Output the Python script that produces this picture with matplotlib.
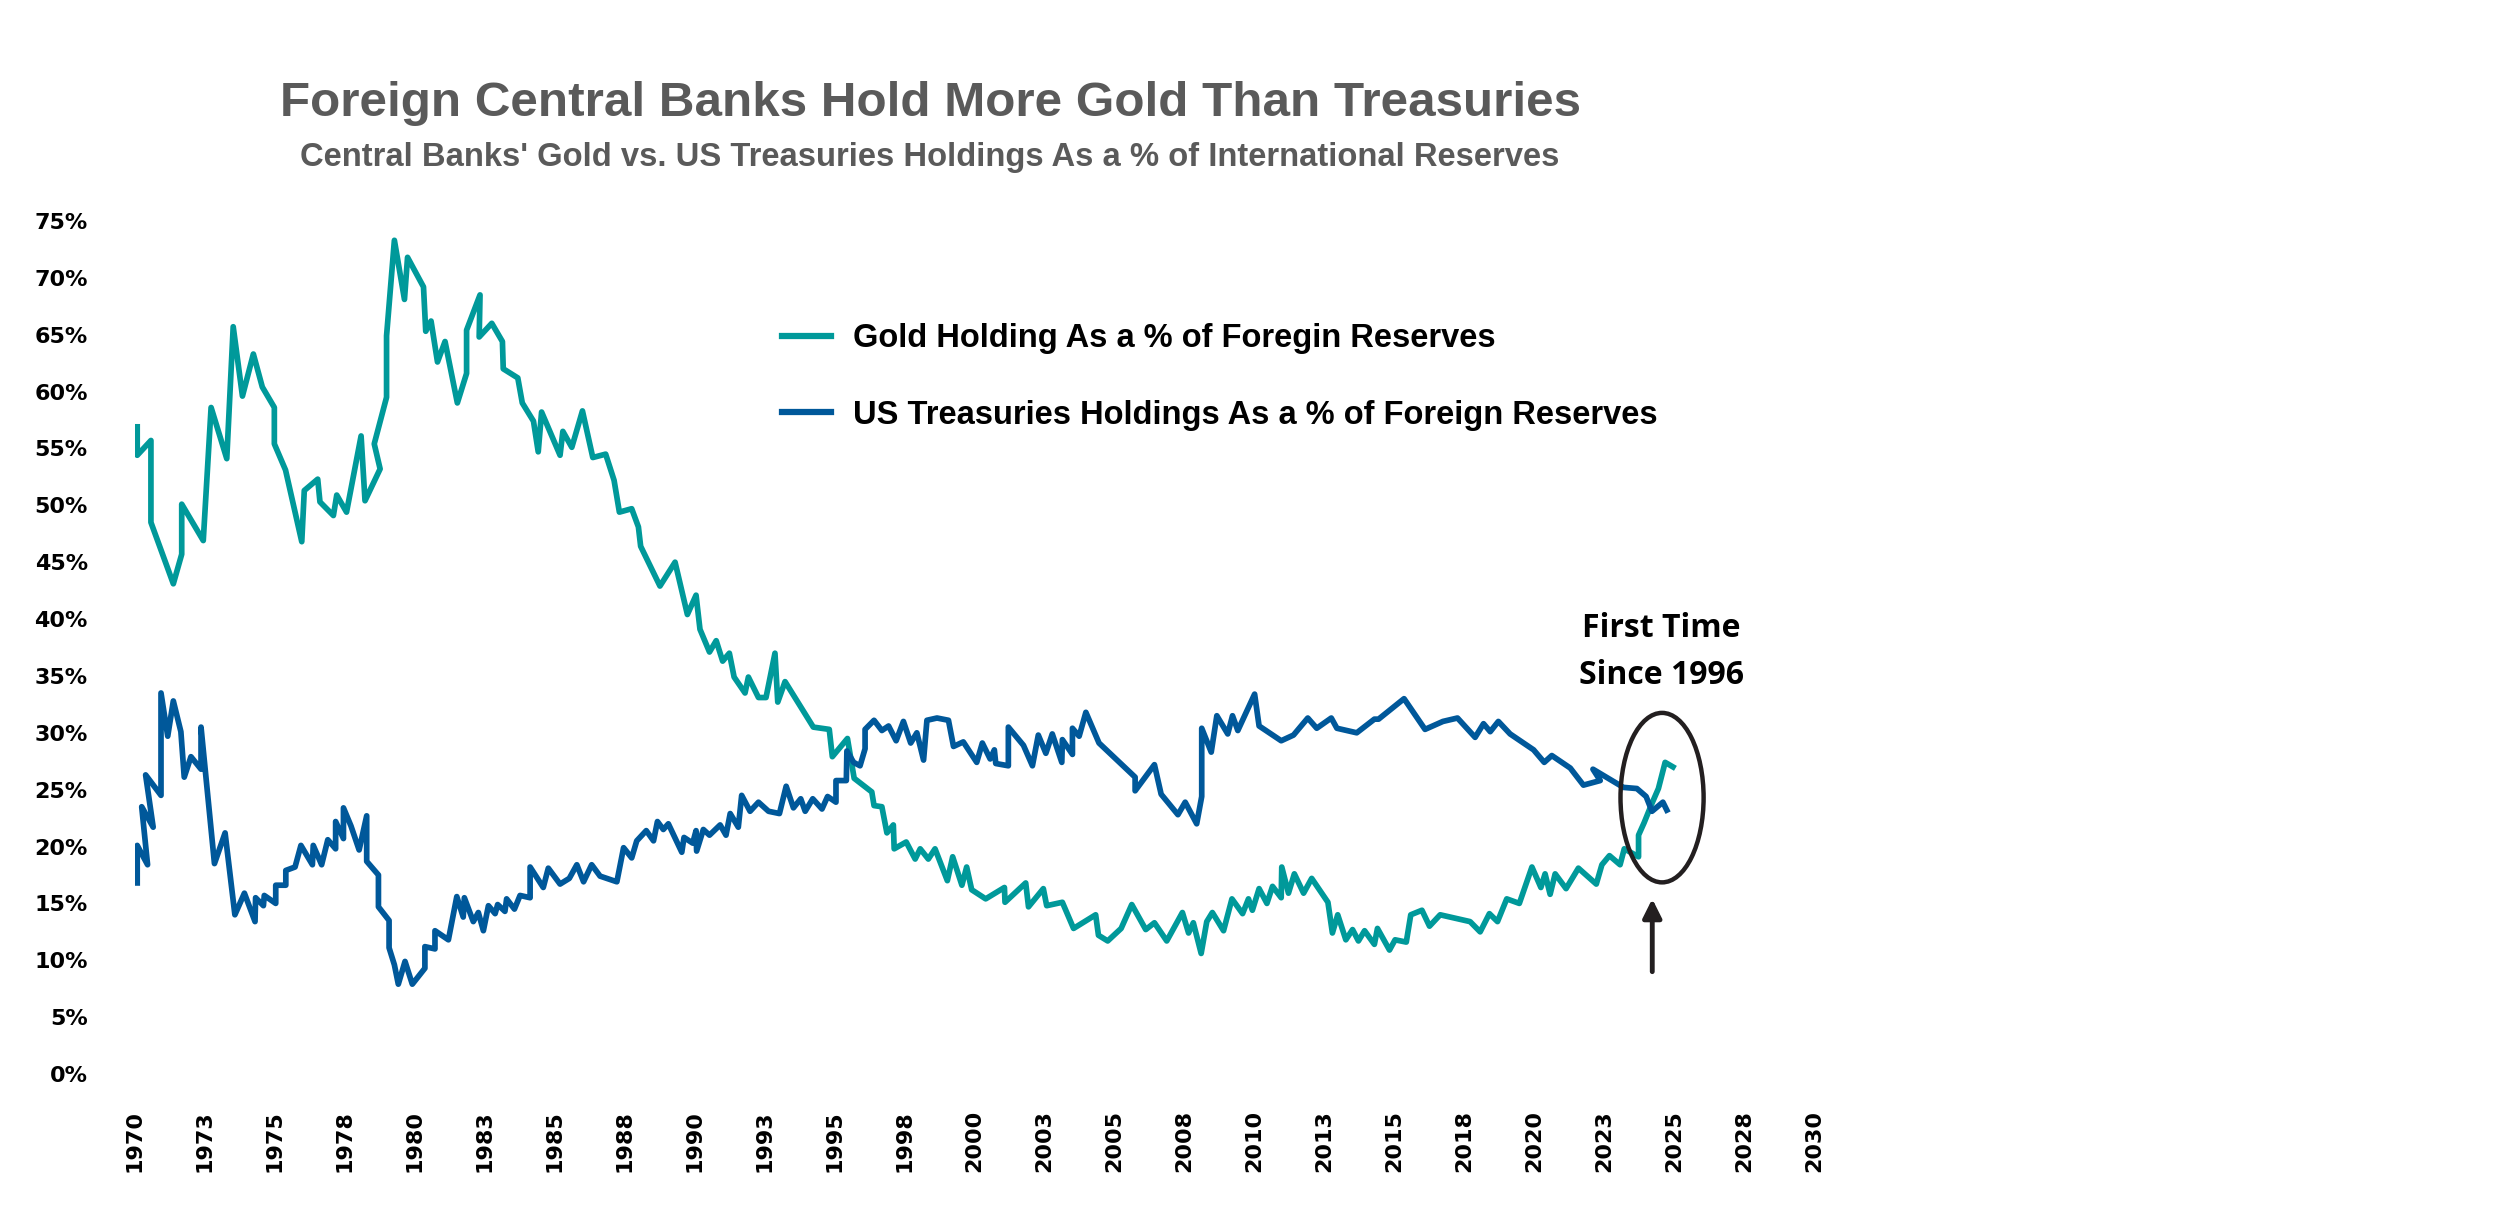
import matplotlib
matplotlib.use("Agg")
import matplotlib.pyplot as plt
from matplotlib import font_manager
from matplotlib.patches import Ellipse

# pick fonts that exist in the sandbox
_names = {f.name for f in font_manager.fontManager.ttflist}
NARROW = "Liberation Sans Narrow" if "Liberation Sans Narrow" in _names else "Liberation Sans"
NOTE = "Open Sans" if "Open Sans" in _names else "DejaVu Sans"

# ---- data (% of reserves) ----
gold_years = [
    1970.08, 1970.08, 1970.57, 1970.57, 1971.37, 1971.67, 1971.67, 1972.44, 1972.72, 1973.28,
    1973.51, 1973.84, 1974.23, 1974.55, 1974.98, 1974.98, 1975.38, 1975.96, 1976.05, 1976.53,
    1976.61, 1977.09, 1977.21, 1977.56, 1978.08, 1978.22, 1978.76, 1978.55, 1978.99, 1978.99,
    1979.27, 1979.63, 1979.74, 1980.31, 1980.39, 1980.58, 1980.81, 1981.08, 1981.52, 1981.85,
    1981.85, 1982.33, 1982.30, 1982.75, 1983.13, 1983.16, 1983.68, 1983.84, 1984.24, 1984.41,
    1984.53, 1985.19, 1985.29, 1985.61, 1985.99, 1986.36, 1986.82, 1987.12, 1987.31, 1987.75,
    1987.99, 1988.07, 1988.76, 1989.30, 1989.74, 1990.05, 1990.19, 1990.53, 1990.77, 1991.00,
    1991.24, 1991.41, 1991.80, 1991.92, 1992.28, 1992.55, 1992.87, 1992.97, 1993.23, 1994.24,
    1994.81, 1994.92, 1995.46, 1995.70, 1996.33, 1996.41, 1996.69, 1996.87, 1997.10, 1997.13,
    1997.56, 1997.88, 1998.06, 1998.35, 1998.59, 1999.03, 1999.22, 1999.55, 1999.72, 1999.90,
    2000.40, 2001.07, 2001.09, 2001.83, 2001.93, 2002.46, 2002.58, 2003.14, 2003.54, 2004.33,
    2004.43, 2004.76, 2005.24, 2005.62, 2006.12, 2006.43, 2006.87, 2007.43, 2007.65, 2007.82,
    2008.10, 2008.30, 2008.50, 2008.90, 2009.20, 2009.58, 2009.79, 2009.93, 2010.17, 2010.45,
    2010.65, 2010.96, 2010.98, 2011.22, 2011.43, 2011.76, 2012.05, 2012.63, 2012.79, 2012.98,
    2013.27, 2013.51, 2013.72, 2013.94, 2014.29, 2014.40, 2014.83, 2015.03, 2015.43, 2015.59,
    2015.99, 2016.26, 2016.64, 2017.71, 2018.07, 2018.40, 2018.69, 2019.02, 2019.47, 2019.92,
    2020.24, 2020.39, 2020.57, 2020.75, 2021.14, 2021.58, 2022.22, 2022.42, 2022.69, 2023.07,
    2023.22, 2023.73, 2023.73, 2023.93, 2024.21, 2024.44, 2024.68, 2024.96,
]
gold_pct = [
    56.9, 54.4, 55.7, 48.5, 43.1, 45.7, 50.1, 46.9, 58.6, 54.1,
    65.7, 59.6, 63.3, 60.4, 58.6, 55.4, 53.1, 46.8, 51.3, 52.3,
    50.3, 49.1, 50.9, 49.4, 56.1, 50.4, 53.2, 55.4, 59.5, 64.9,
    73.3, 68.1, 71.8, 69.2, 65.3, 66.2, 62.6, 64.4, 59.0, 61.6,
    65.4, 68.5, 64.8, 66.0, 64.4, 62.0, 61.2, 59.0, 57.4, 54.7,
    58.2, 54.4, 56.5, 55.1, 58.3, 54.2, 54.5, 52.2, 49.4, 49.7,
    48.1, 46.4, 42.9, 45.0, 40.4, 42.1, 39.1, 37.1, 38.1, 36.3,
    37.0, 34.9, 33.5, 34.9, 33.1, 33.1, 37.0, 32.7, 34.5, 30.5,
    30.3, 27.9, 29.5, 26.0, 24.8, 23.6, 23.5, 21.2, 21.9, 19.8,
    20.4, 18.9, 19.8, 18.9, 19.8, 17.0, 19.1, 16.6, 18.2, 16.2,
    15.4, 16.4, 15.1, 16.8, 14.7, 16.3, 14.8, 15.1, 12.8, 14.0,
    12.2, 11.7, 12.8, 14.9, 12.7, 13.3, 11.7, 14.2, 12.4, 13.3,
    10.6, 13.4, 14.2, 12.6, 15.4, 14.1, 15.4, 14.4, 16.3, 15.0,
    16.5, 15.5, 18.2, 15.9, 17.6, 15.9, 17.2, 15.1, 12.4, 14.0,
    11.8, 12.7, 11.7, 12.6, 11.4, 12.8, 10.9, 11.8, 11.6, 14.0,
    14.4, 13.0, 14.0, 13.4, 12.5, 14.1, 13.4, 15.4, 15.0, 18.2,
    16.4, 17.6, 15.8, 17.6, 16.3, 18.1, 16.7, 18.4, 19.2, 18.4,
    19.8, 19.1, 21.0, 22.1, 23.8, 25.1, 27.4, 27.0,
]

ust_years = [
    1970.08, 1970.08, 1970.45, 1970.24, 1970.65, 1970.38, 1970.93, 1970.93, 1971.17, 1971.37,
    1971.64, 1971.76, 1972.00, 1972.36, 1972.36, 1972.84, 1973.22, 1973.57, 1973.91, 1974.29,
    1974.31, 1974.59, 1974.62, 1975.03, 1975.03, 1975.39, 1975.39, 1975.72, 1975.93, 1976.34,
    1976.37, 1976.67, 1976.89, 1977.17, 1977.17, 1977.45, 1977.45, 1977.72, 1978.01, 1978.28,
    1978.28, 1978.70, 1978.70, 1979.08, 1979.08, 1979.27, 1979.41, 1979.65, 1979.91, 1980.36,
    1980.36, 1980.72, 1980.72, 1981.20, 1981.50, 1981.73, 1981.77, 1982.09, 1982.27, 1982.45,
    1982.63, 1982.87, 1982.96, 1983.22, 1983.28, 1983.56, 1983.76, 1984.12, 1984.12, 1984.59,
    1984.77, 1985.19, 1985.52, 1985.79, 1986.03, 1986.32, 1986.62, 1987.22, 1987.46, 1987.75,
    1987.93, 1988.27, 1988.53, 1988.67, 1988.88, 1989.06, 1989.54, 1989.62, 1989.93, 1990.05,
    1990.07, 1990.31, 1990.53, 1990.91, 1991.12, 1991.27, 1991.56, 1991.68, 1991.98, 1992.28,
    1992.64, 1993.03, 1993.27, 1993.53, 1993.79, 1993.95, 1994.22, 1994.55, 1994.75, 1995.05,
    1995.05, 1995.42, 1995.44, 1995.68, 1995.91, 1996.09, 1996.09, 1996.41, 1996.69, 1996.93,
    1997.20, 1997.46, 1997.72, 1997.94, 1998.18, 1998.30, 1998.66, 1999.07, 1999.25, 1999.60,
    2000.08, 2000.28, 2000.56, 2000.71, 2000.76, 2001.21, 2001.21, 2001.75, 2002.07, 2002.28,
    2002.55, 2002.78, 2003.12, 2003.14, 2003.50, 2003.50, 2003.74, 2003.98, 2004.45, 2005.74,
    2005.74, 2006.43, 2006.67, 2007.27, 2007.53, 2007.94, 2008.12, 2008.12, 2008.46, 2008.66,
    2009.05, 2009.22, 2009.41, 2010.01, 2010.17, 2010.96, 2011.40, 2011.91, 2012.23, 2012.75,
    2012.95, 2013.66, 2014.29, 2014.44, 2015.35, 2016.10, 2016.74, 2017.26, 2017.89, 2018.19,
    2018.43, 2018.72, 2019.14, 2019.98, 2020.36, 2020.63, 2021.29, 2021.76, 2022.36, 2022.10,
    2023.19, 2023.67, 2024.00, 2024.21, 2024.60, 2024.74,
]
ust_pct = [
    16.8, 20.1, 18.4, 23.5, 21.7, 26.3, 24.5, 33.5, 29.7, 32.8,
    30.1, 26.1, 27.9, 26.8, 30.5, 18.5, 21.2, 14.0, 15.9, 13.4,
    15.5, 14.8, 15.7, 15.0, 16.6, 16.6, 17.9, 18.2, 20.1, 18.4,
    20.1, 18.4, 20.6, 19.8, 22.2, 20.7, 23.4, 21.8, 19.7, 22.7,
    18.7, 17.5, 14.7, 13.5, 11.1, 9.6, 7.9, 9.9, 7.9, 9.3,
    11.2, 11.0, 12.6, 11.8, 15.6, 13.8, 15.5, 13.4, 14.2, 12.6,
    14.8, 14.1, 14.9, 14.3, 15.4, 14.5, 15.7, 15.5, 18.2, 16.4,
    18.1, 16.7, 17.2, 18.4, 16.9, 18.4, 17.4, 16.9, 19.9, 19.0,
    20.5, 21.4, 20.5, 22.2, 21.5, 22.0, 19.5, 20.8, 20.3, 21.4,
    19.6, 21.5, 21.0, 21.9, 21.0, 22.9, 21.7, 24.5, 23.1, 23.9,
    23.1, 22.9, 25.3, 23.4, 24.2, 23.1, 24.2, 23.3, 24.4, 23.9,
    25.8, 25.8, 28.4, 27.4, 27.1, 28.6, 30.3, 31.1, 30.2, 30.6,
    29.3, 31.0, 29.1, 30.0, 27.6, 31.1, 31.3, 31.1, 28.8, 29.2,
    27.4, 29.1, 27.7, 28.5, 27.3, 27.1, 30.5, 28.9, 27.1, 29.8,
    28.2, 29.9, 27.4, 29.4, 28.1, 30.4, 29.7, 31.8, 29.1, 26.1,
    24.9, 27.2, 24.6, 22.8, 23.9, 22.0, 24.4, 30.4, 28.3, 31.5,
    29.9, 31.5, 30.2, 33.4, 30.6, 29.3, 29.8, 31.3, 30.4, 31.3,
    30.4, 30.0, 31.2, 31.2, 33.0, 30.3, 31.0, 31.3, 29.6, 30.8,
    30.1, 31.0, 29.9, 28.5, 27.4, 28.0, 26.9, 25.4, 25.8, 26.8,
    25.2, 25.1, 24.4, 23.1, 23.9, 23.2,
]

x_ticks = [1970 + 2.5 * i for i in range(25)]
x_labels = [str(int(t + 0.5)) for t in x_ticks]
y_ticks = list(range(0, 80, 5))
y_labels = [f"{v}%" for v in y_ticks]

GOLD_C = "#00999A"
UST_C = "#00589A"
DARK = "#231F20"

fig = plt.figure(figsize=(25.09, 12.08), dpi=100)
ax = fig.add_axes([0.0538, 0.1109, 0.6692, 0.7062])

ax.plot(gold_years, gold_pct, color=GOLD_C, lw=4.1, solid_joinstyle="round",
        label="Gold Holding As a % of Foregin Reserves")
ax.plot(ust_years, ust_pct, color=UST_C, lw=4.1, solid_joinstyle="round",
        label="US Treasuries Holdings As a % of Foreign Reserves")

ax.set_xlim(1970, 2030)
ax.set_ylim(0, 75)
ax.set_xticks(x_ticks)
ax.set_xticklabels(x_labels, rotation=90, fontsize=16, fontweight="bold", family="DejaVu Sans")
ax.set_yticks(y_ticks)
ax.set_yticklabels(y_labels, fontsize=16, fontweight="bold", family="DejaVu Sans")
ax.tick_params(axis="x", length=0, pad=26)
ax.tick_params(axis="y", length=0, pad=34)
for s in ax.spines.values():
    s.set_visible(False)

leg = ax.legend(loc="upper left", bbox_to_anchor=(0.305, 0.746), bbox_transform=fig.transFigure,
                frameon=False, borderpad=0, handlelength=1.5, handletextpad=0.7,
                labelspacing=1.4, prop={"family": NARROW, "weight": "bold", "size": 23.5})
for line in leg.get_lines():
    line.set_linewidth(4.5)

fig.text(0.3707, 0.914, "Foreign Central Banks Hold More Gold Than Treasuries", ha="center",
         va="center", fontsize=35.6, fontweight="bold", family=NARROW, color="#5A5A5A")
fig.text(0.3707, 0.870, "Central Banks' Gold vs. US Treasuries Holdings As a % of International Reserves",
         ha="center", va="center", fontsize=23.6, fontweight="bold", family=NARROW, color="#5A5A5A")

# annotation: ellipse, arrow and note
ax.add_patch(Ellipse((2024.57, 24.3), 2.97, 14.9, fill=False, lw=3.2, edgecolor=DARK, zorder=5))
ax.annotate("", xy=(2024.22, 15.4), xytext=(2024.22, 9.0),
            arrowprops=dict(arrowstyle="-|>", lw=3.5, color=DARK, mutation_scale=28,
                            shrinkA=0, shrinkB=0))
ax.text(2024.54, 37.1, "First Time\nSince 1996", ha="center", va="center", fontsize=23,
        fontweight="bold", family=NOTE, color="black", linespacing=1.55)

fig.savefig("out.png", dpi=100)
